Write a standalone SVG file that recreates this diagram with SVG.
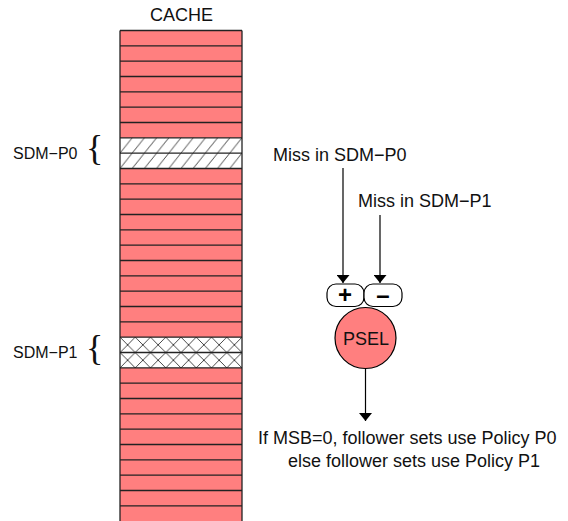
<svg xmlns="http://www.w3.org/2000/svg" width="568" height="521" viewBox="0 0 568 521">
  <style>
    .lbl { font-family: "Liberation Sans", Arial, sans-serif; font-size: 18px; fill: #111; }
    .side { font-family: "Liberation Sans", Arial, sans-serif; font-size: 16px; fill: #111; }
    .brace { font-family: "Liberation Serif", "Times New Roman", serif; font-size: 36px; fill: #111; }
    .sign { font-family: "Liberation Sans", Arial, sans-serif; font-size: 24px; font-weight: bold; fill: #000; text-anchor: middle; }
    .row { stroke: #222; stroke-width: 1.3; }
    .wire { stroke: #000; stroke-width: 1.2; fill: none; }
  </style>
  <defs>
    <pattern id="diag" patternUnits="userSpaceOnUse" x="120" y="137.8" width="12.2" height="15.33">
      <rect width="12.2" height="15.33" fill="#fff"/>
      <line x1="0" y1="15.33" x2="12.2" y2="0" stroke="#333" stroke-width="0.9"/>
    </pattern>
    <pattern id="cross" patternUnits="userSpaceOnUse" x="120" y="337.2" width="15.25" height="15.33">
      <rect width="15.25" height="15.33" fill="#fff"/>
      <line x1="0" y1="0" x2="15.25" y2="15.33" stroke="#333" stroke-width="0.9"/>
      <line x1="15.25" y1="0" x2="0" y2="15.33" stroke="#333" stroke-width="0.9"/>
    </pattern>
    <marker id="arrow" viewBox="0 0 8 13" refX="8" refY="6.5" markerWidth="8" markerHeight="13" markerUnits="userSpaceOnUse" orient="auto">
      <path d="M0,0 L8,6.5 L0,13 Z" fill="#000"/>
    </marker>
  </defs>

  <!-- cache array: 32 sets -->
  <g id="cache">
    <text class="lbl" x="150" y="21" font-size="17">CACHE</text>
    <rect x="120" y="30.5" width="122" height="491" fill="#ff7f7f"/>
    <rect x="120" y="137.8" width="122" height="30.67" fill="url(#diag)"/>
    <rect x="120" y="337.2" width="122" height="30.67" fill="url(#cross)"/>
    <g class="row">
      <line x1="120" y1="30.5" x2="242" y2="30.5"/>
      <line x1="120" y1="45.8" x2="242" y2="45.8"/>
      <line x1="120" y1="61.2" x2="242" y2="61.2"/>
      <line x1="120" y1="76.5" x2="242" y2="76.5"/>
      <line x1="120" y1="91.8" x2="242" y2="91.8"/>
      <line x1="120" y1="107.2" x2="242" y2="107.2"/>
      <line x1="120" y1="122.5" x2="242" y2="122.5"/>
      <line x1="120" y1="137.8" x2="242" y2="137.8"/>
      <line x1="120" y1="153.2" x2="242" y2="153.2"/>
      <line x1="120" y1="168.5" x2="242" y2="168.5"/>
      <line x1="120" y1="183.8" x2="242" y2="183.8"/>
      <line x1="120" y1="199.2" x2="242" y2="199.2"/>
      <line x1="120" y1="214.5" x2="242" y2="214.5"/>
      <line x1="120" y1="229.8" x2="242" y2="229.8"/>
      <line x1="120" y1="245.2" x2="242" y2="245.2"/>
      <line x1="120" y1="260.5" x2="242" y2="260.5"/>
      <line x1="120" y1="275.8" x2="242" y2="275.8"/>
      <line x1="120" y1="291.2" x2="242" y2="291.2"/>
      <line x1="120" y1="306.5" x2="242" y2="306.5"/>
      <line x1="120" y1="321.8" x2="242" y2="321.8"/>
      <line x1="120" y1="337.2" x2="242" y2="337.2"/>
      <line x1="120" y1="352.5" x2="242" y2="352.5"/>
      <line x1="120" y1="367.8" x2="242" y2="367.8"/>
      <line x1="120" y1="383.2" x2="242" y2="383.2"/>
      <line x1="120" y1="398.5" x2="242" y2="398.5"/>
      <line x1="120" y1="413.8" x2="242" y2="413.8"/>
      <line x1="120" y1="429.2" x2="242" y2="429.2"/>
      <line x1="120" y1="444.5" x2="242" y2="444.5"/>
      <line x1="120" y1="459.8" x2="242" y2="459.8"/>
      <line x1="120" y1="475.2" x2="242" y2="475.2"/>
      <line x1="120" y1="490.5" x2="242" y2="490.5"/>
      <line x1="120" y1="505.8" x2="242" y2="505.8"/>
      <line x1="120" y1="30.5" x2="120" y2="521"/>
      <line x1="242" y1="30.5" x2="242" y2="521"/>
    </g>
  </g>

  <g id="sdm-p0">
    <text class="side" x="13" y="159">SDM−P0</text>
    <text class="brace" x="86" y="160">{</text>
  </g>
  <g id="sdm-p1">
    <text class="side" x="13" y="358">SDM−P1</text>
    <text class="brace" x="86" y="360">{</text>
  </g>

  <g id="miss-p0"><text class="lbl" x="273" y="161">Miss in SDM−P0</text></g>
  <g id="miss-p1"><text class="lbl" x="358" y="207">Miss in SDM−P1</text></g>

  <g id="inc">
    <rect x="327" y="284" width="37" height="22.5" rx="9" fill="#fff" stroke="#000" stroke-width="1.2"/>
    <text class="sign" x="345" y="303">+</text>
  </g>
  <g id="dec">
    <rect x="364" y="284" width="38" height="22.5" rx="9" fill="#fff" stroke="#000" stroke-width="1.2"/>
    <text class="sign" x="383" y="303">–</text>
  </g>

  <g id="psel">
    <circle cx="365.5" cy="338" r="30.5" fill="#ff7f7f" stroke="#000" stroke-width="1.2"/>
    <text class="lbl" x="366" y="345" text-anchor="middle" font-size="19">PSEL</text>
  </g>

  <g id="result">
    <text class="lbl" x="258" y="444">If MSB=0, follower sets use Policy P0</text>
    <text class="lbl" x="288" y="467">else follower sets use Policy P1</text>
  </g>

  <g id="connectors">
    <line class="wire" x1="343" y1="168" x2="343" y2="283" marker-end="url(#arrow)"/>
    <line class="wire" x1="380" y1="215" x2="380" y2="283" marker-end="url(#arrow)"/>
    <line class="wire" x1="365.5" y1="368.5" x2="365.5" y2="421" marker-end="url(#arrow)"/>
  </g>
</svg>
